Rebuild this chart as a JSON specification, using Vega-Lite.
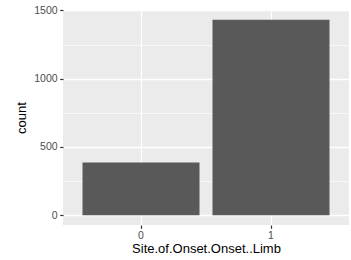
{
  "$schema": "https://vega.github.io/schema/vega-lite/v6.json",
  "autosize": "none",
  "width": 286,
  "height": 215,
  "padding": {"left": 63, "top": 10, "right": 2, "bottom": 35},
  "background": "white",
  "config": {
    "view": {"fill": "#EBEBEB", "stroke": null},
    "font": "Liberation Sans",
    "axis": {
      "domain": false,
      "labelFont": "Liberation Sans",
      "titleFont": "Liberation Sans",
      "labelFontSize": 10.5,
      "labelColor": "#4D4D4D",
      "titleFontSize": 13,
      "titleFontWeight": "normal",
      "titleColor": "black",
      "tickColor": "#333333",
      "tickSize": 3.3,
      "tickWidth": 1.2,
      "labelPadding": 2.6,
      "gridColor": "white"
    }
  },
  "data": {
    "values": [
      {"site": "0", "count": 387},
      {"site": "1", "count": 1432}
    ]
  },
  "mark": {"type": "bar", "color": "#595959"},
  "encoding": {
    "x": {
      "field": "site",
      "type": "nominal",
      "scale": {"paddingInner": 0.1, "paddingOuter": 0.15},
      "axis": {
        "title": "Site.of.Onset.Onset..Limb",
        "labelAngle": 0,
        "bandPosition": 0.5,
        "grid": true,
        "gridWidth": 1.28,
        "titlePadding": 1
      }
    },
    "y": {
      "field": "count",
      "type": "quantitative",
      "scale": {"domain": [-71.6, 1503.6], "nice": false, "zero": false},
      "axis": {
        "title": "count",
        "format": "d",
        "values": [0, 250, 500, 750, 1000, 1250, 1500],
        "labelExpr": "datum.value % 500 === 0 ? datum.label : ''",
        "tickOpacity": {"condition": {"test": "datum.value % 500 === 0", "value": 1}, "value": 0},
        "gridWidth": {"condition": {"test": "datum.value % 500 === 0", "value": 1.28}, "value": 0.64},
        "titlePadding": 5
      }
    }
  }
}
